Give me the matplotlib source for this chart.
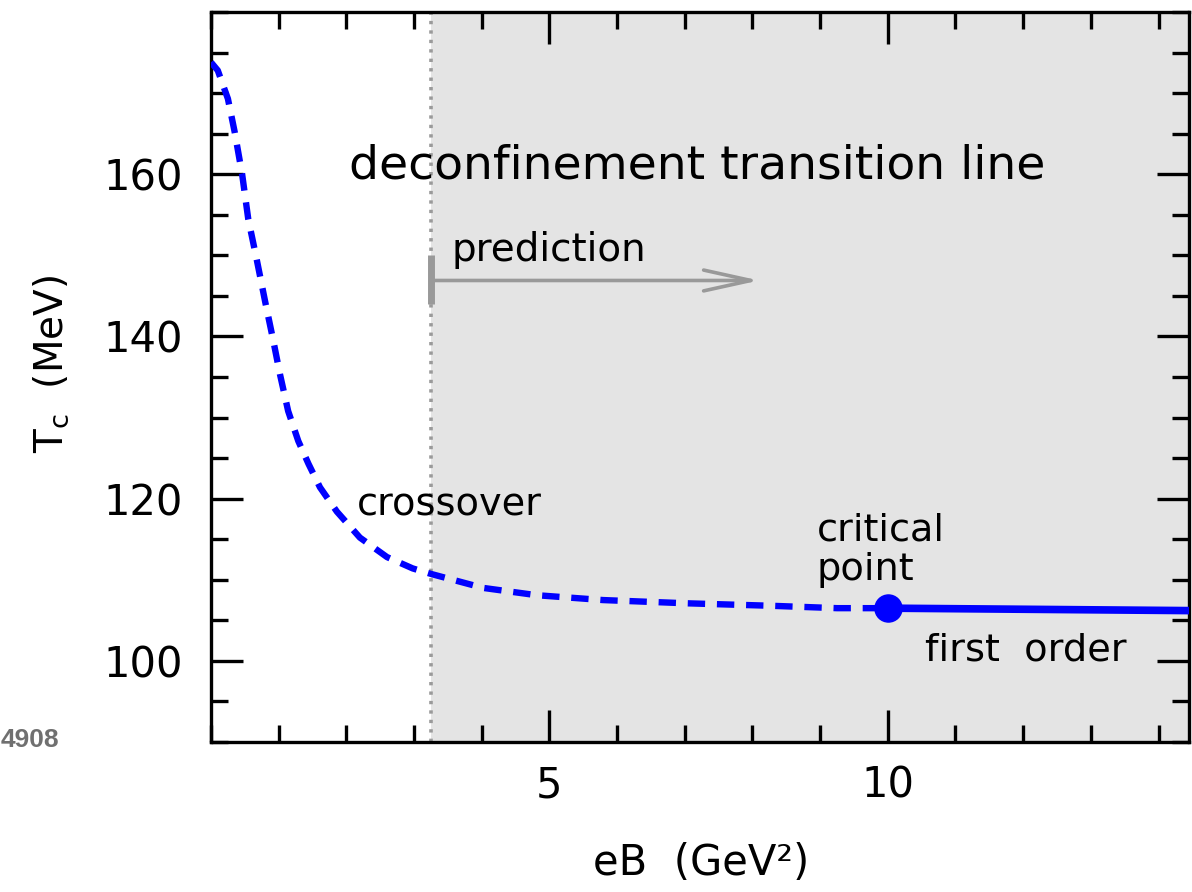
import matplotlib
matplotlib.use('Agg')
import matplotlib.pyplot as plt
from matplotlib.ticker import FixedLocator, MultipleLocator

plt.rcParams['font.family'] = ['DejaVu Sans']
plt.rcParams['mathtext.fontset'] = 'dejavusans'
plt.rcParams['lines.scale_dashes'] = False

# ---- data ----
eB_crossover = [0.0, 0.1, 0.25, 0.35, 0.46, 0.55, 0.68, 0.80, 0.92, 1.02, 1.14,
                1.29, 1.44, 1.61, 1.86, 2.20, 2.60, 2.98, 3.26, 4.02, 4.81,
                5.79, 7.03, 8.26, 9.25, 10.0]
Tc_crossover = [173.8, 172.8, 169.3, 165.2, 160.0, 154.5, 149.3, 144.3, 139.5,
                135.3, 130.8, 127.1, 124.3, 121.4, 118.4, 115.2, 112.8, 111.4,
                110.7, 109.0, 108.1, 107.5, 107.1, 106.8, 106.5, 106.5]
eB_first = [10.0, 14.45]
Tc_first = [106.5, 106.2]
eB_critical = [10.0]
Tc_critical = [106.5]

eB_pred_start = 3.25
eB_pred_end = 8.1
Tc_pred = 146.9
x_max = 14.45

x_major = [5, 10]
x_major_labels = ['5', '10']
y_major = [100, 120, 140, 160]
y_major_labels = ['100', '120', '140', '160']

W, H = 1192, 892
fig = plt.figure(figsize=(W / 100, H / 100), dpi=100)
ax = fig.add_axes([211 / W, 1 - 742 / H, 978 / W, 730 / H])
ax.set_xlim(0, x_max)
ax.set_ylim(90, 180)

ax.axvspan(eB_pred_start, x_max, color='#e4e4e4', lw=0, zorder=0)
ax.axvline(eB_pred_start, color='#9a9a9a', lw=2.6, dashes=[2.4, 4.4], zorder=1)

ax.plot(eB_crossover, Tc_crossover, color='#0000ff', lw=4.6,
        dashes=[12.5, 8.5], zorder=3)
ax.plot(eB_first, Tc_first, color='#0000ff', lw=5.5,
        solid_capstyle='butt', zorder=3)
ax.plot(eB_critical, Tc_critical, 'o', ms=19.5, color='#0000ff', zorder=4)

# prediction arrow
ax.annotate('', xy=(eB_pred_end, Tc_pred), xytext=(eB_pred_start, Tc_pred),
            arrowprops=dict(arrowstyle='->,head_length=3.4,head_width=0.75',
                            color='#999999', lw=2.6, shrinkA=0, shrinkB=0,
                            mutation_scale=10), zorder=2)
ax.plot([eB_pred_start, eB_pred_start], [144.0, 150.0], color='#999999',
        lw=5, solid_capstyle='butt', zorder=2)

# texts
ax.text(2.04, 159.5, 'deconfinement transition line', fontsize=34, va='baseline')
ax.text(3.56, 149.3, 'prediction', fontsize=28, va='baseline')
ax.text(2.16, 117.9, 'crossover', fontsize=27.5, va='baseline')
ax.text(8.95, 114.85, 'critical', fontsize=27.5, va='baseline')
ax.text(8.95, 109.95, 'point', fontsize=27.5, va='baseline')
ax.text(10.55, 100.1, 'first  order', fontsize=27.5, va='baseline')

# ticks
ax.xaxis.set_major_locator(FixedLocator(x_major))
ax.set_xticklabels(x_major_labels)
ax.xaxis.set_minor_locator(MultipleLocator(1))
ax.yaxis.set_major_locator(FixedLocator(y_major))
ax.set_yticklabels(y_major_labels)
ax.yaxis.set_minor_locator(MultipleLocator(5))
ax.tick_params(which='both', direction='in', top=True, right=True,
               width=2.4, color='black', labelsize=30)
ax.tick_params(which='major', length=23)
ax.tick_params(which='minor', length=12)
ax.tick_params(axis='x', which='major', pad=16)
ax.tick_params(axis='y', which='major', pad=20)
for s in ax.spines.values():
    s.set_linewidth(2.4)

fig.text(51 / W, 1 - 364 / H, r'T$_\mathrm{c}$  (MeV)', rotation=90,
         ha='center', va='center', fontsize=28)
fig.text(701 / W, 1 - 863 / H, 'eB  (GeV²)', ha='center', va='center',
         fontsize=30)
fig.text(1 / W, 1 - 740 / H, '4908', ha='left', va='center', fontsize=19,
         color='#707070', fontweight='bold',
         family=['Liberation Sans', 'DejaVu Sans'])

fig.savefig('out.png', dpi=100)
